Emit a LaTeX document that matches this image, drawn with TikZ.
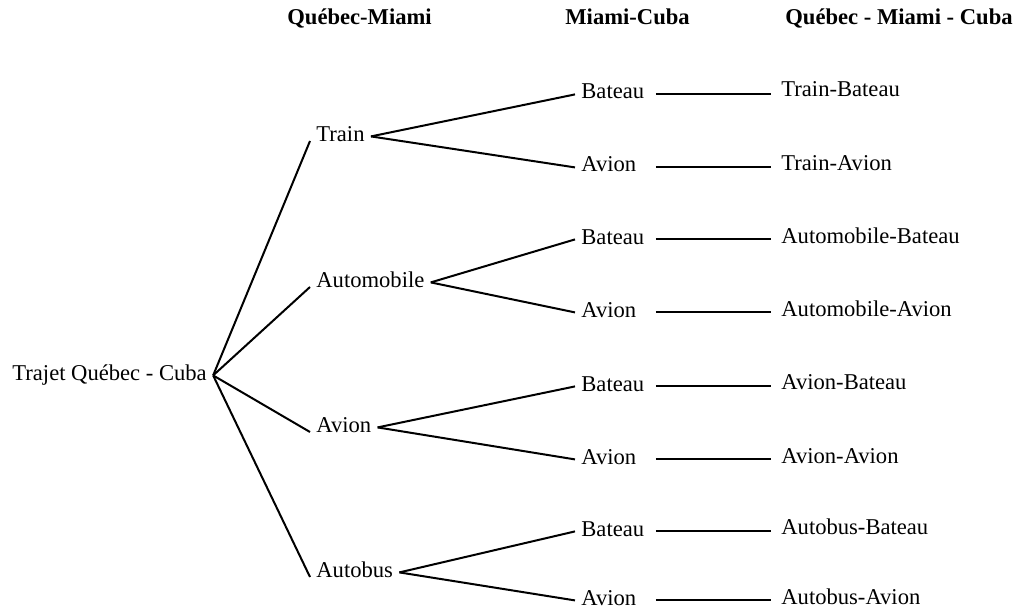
\documentclass[tikz,border=0pt]{standalone}
\usepackage{fontspec}
\setmainfont{Liberation Serif}

\begin{document}
\begin{tikzpicture}[x=0.5pt,y=-0.5pt,
  every node/.style={inner sep=3pt,font=\fontsize{11.3}{13}\selectfont},
  branch/.style={-,line width=1pt,color=black},
  choix/.style={anchor=base west},
  moyen/.style={anchor=base west,text width=34pt,align=left}]
\useasboundingbox (0,0) rectangle (1013,610);

% titres des colonnes
\node[choix] (hqm)  at (281,25) {\textbf{Québec-Miami}};
\node[choix] (hmc)  at (559,25) {\textbf{Miami-Cuba}};
\node[choix] (hqmc) at (779,25) {\textbf{Québec - Miami - Cuba}};

\node[choix] (trajet) at (6,380) {Trajet Québec - Cuba};

% Québec-Miami
\node[choix] (train) at (310,141) {Train};
\node[choix] (auto)  at (310,287) {Automobile};
\node[choix] (avion) at (310,432) {Avion};
\node[choix] (bus)   at (310,577) {Autobus};

% Miami-Cuba
\node[moyen] (bat1) at (575,99)  {Bateau};
\node[moyen] (av1)  at (575,172) {Avion};
\node[moyen] (bat2) at (575,244) {Bateau};
\node[moyen] (av2)  at (575,317) {Avion};
\node[moyen] (bat3) at (575,391) {Bateau};
\node[moyen] (av3)  at (575,464) {Avion};
\node[moyen] (bat4) at (575,536) {Bateau};
\node[moyen] (av4)  at (575,605) {Avion};

% Québec - Miami - Cuba
\node[choix] (res1) at (775,97)  {Train-Bateau};
\node[choix] (res2) at (775,170) {Train-Avion};
\node[choix] (res3) at (775,243) {Automobile-Bateau};
\node[choix] (res4) at (775,316) {Automobile-Avion};
\node[choix] (res5) at (775,389) {Avion-Bateau};
\node[choix] (res6) at (775,463) {Avion-Avion};
\node[choix] (res7) at (775,534) {Autobus-Bateau};
\node[choix] (res8) at (775,604) {Autobus-Avion};

\draw[branch] (trajet.mid east) to (train.base west);
\draw[branch] (trajet.mid east) to (auto.base west);
\draw[branch] (trajet.mid east) to (avion.base west);
\draw[branch] (trajet.mid east) to (bus.base west);

\draw[branch] (train.mid east) to (bat1.mid west);
\draw[branch] (train.mid east) to (av1.mid west);
\draw[branch] (auto.mid east) to (bat2.mid west);
\draw[branch] (auto.mid east) to (av2.mid west);
\draw[branch] (avion.mid east) to (bat3.mid west);
\draw[branch] (avion.mid east) to (av3.mid west);
\draw[branch] (bus.mid east) to (bat4.mid west);
\draw[branch] (bus.mid east) to (av4.mid west);

\draw[branch] (bat1.mid east) to ([xshift=-2pt]bat1.mid east -| res1.west);
\draw[branch] (av1.mid east) to ([xshift=-2pt]av1.mid east -| res2.west);
\draw[branch] (bat2.mid east) to ([xshift=-2pt]bat2.mid east -| res3.west);
\draw[branch] (av2.mid east) to ([xshift=-2pt]av2.mid east -| res4.west);
\draw[branch] (bat3.mid east) to ([xshift=-2pt]bat3.mid east -| res5.west);
\draw[branch] (av3.mid east) to ([xshift=-2pt]av3.mid east -| res6.west);
\draw[branch] (bat4.mid east) to ([xshift=-2pt]bat4.mid east -| res7.west);
\draw[branch] (av4.mid east) to ([xshift=-2pt]av4.mid east -| res8.west);
\end{tikzpicture}
\end{document}
